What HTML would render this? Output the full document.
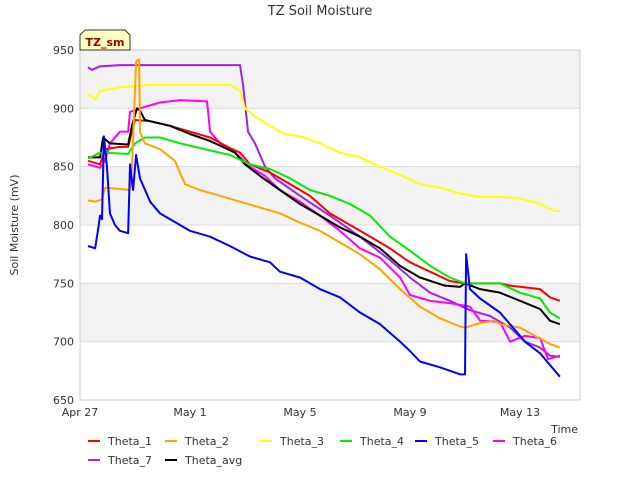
<!DOCTYPE html>
<html><head><meta charset="utf-8"><style>
body{margin:0;background:#fff;font-family:"Liberation Sans","DejaVu Sans",sans-serif}
svg text{font-family:"DejaVu Sans","Liberation Sans",sans-serif}
</style></head><body>
<svg id="chart" width="640" height="480" xmlns="http://www.w3.org/2000/svg">
<rect width="640" height="480" fill="#fff"/>
<text x="320" y="15" text-anchor="middle" font-size="13" fill="#333">TZ Soil Moisture</text>
<g id="bands"></g><g id="grid"></g><g id="series"></g>
<rect x="80" y="50" width="500" height="350" fill="none" stroke="#ccc"/>
<g id="yticks"></g><g id="xticks"></g>
<text transform="translate(18,225) rotate(-90)" text-anchor="middle" font-size="11" fill="#333">Soil Moisture (mV)</text>
<text x="578" y="433" text-anchor="end" font-size="11" fill="#333">Time</text>
<g><path d="M80,40 L80,35 L85,30 L125,30 L130,35 L130,50 L80,50 Z" fill="#ffffc0" stroke="#333"/>
<text x="105" y="46" text-anchor="middle" font-size="11" font-weight="bold" fill="#990000">TZ_sm</text></g>
<g id="legend"></g>
</svg>
<script>
const names=["Theta_1","Theta_2","Theta_3","Theta_4","Theta_5","Theta_6","Theta_7","Theta_avg"];
const colors=["#ff0000","#ffa500","#ffff00","#00ee00","#0000ff","#ff00ff","#a020f0","#000000"];
const yTicks=[650,700,750,800,850,900,950];
const xTickDays=[0,4,8,12,16];
const xTickLabels=["Apr 27","May 1","May 5","May 9","May 13"];
const theta1=[[.29,855],[.73,852],[.91,865],[1.45,867],[1.75,867],[1.89,880],[2,890],[2.55,889],[3.27,885],[4,880],[4.73,875],[5.45,866],[5.82,862],[6.18,852],[6.91,845],[7.64,835],[8.36,825],[9.09,810],[9.82,800],[10.55,790],[11.27,780],[12,768],[12.73,760],[13.45,752],[14,750],[14.55,750],[15.27,750],[15.64,748],[16.73,745],[17.09,738],[17.45,735]];
const theta2=[[.29,821],[.55,820],[.8,822],[.91,832],[1.82,830],[1.89,850],[2.04,940],[2.15,942],[2.18,880],[2.36,870],[2.91,865],[3.45,855],[3.82,835],[4.36,830],[5.09,825],[5.82,820],[6.55,815],[7.27,810],[8,802],[8.73,795],[9.45,785],[10.18,775],[10.91,762],[11.64,745],[12.36,730],[13.09,720],[13.82,713],[14,712],[14.55,716],[15.09,718],[15.27,715],[16,712],[16.55,705],[17.09,698],[17.45,695]];
const theta3=[[.29,912],[.55,908],[.73,915],[1.45,918],[2.55,920],[5.45,920],[5.82,915],[6,900],[6.36,893],[6.91,885],[7.45,878],[8,876],[8.73,870],[9.45,862],[10.18,858],[10.91,850],[11.64,843],[12.36,835],[13.09,832],[13.82,827],[14.55,824],[15.27,824],[16,823],[16.73,818],[17.27,812],[17.45,812]];
const theta4=[[.29,857],[.73,862],[1.75,861],[2,870],[2.36,875],[2.91,875],[3.64,870],[4.36,866],[5.45,860],[6.18,852],[6.91,848],[7.64,840],[8.36,830],[9.09,825],[9.82,818],[10.55,808],[11.27,790],[12,778],[12.73,765],[13.45,755],[14,750],[15.27,750],[16,742],[16.73,737],[17.09,725],[17.45,720]];
const theta5=[[.29,782],[.55,780],[.65,795],[.73,808],[.8,805],[.87,876],[.98,850],[1.09,810],[1.27,800],[1.45,795],[1.75,793],[1.82,852],[1.93,830],[2.04,860],[2.18,840],[2.55,820],[2.91,810],[3.27,805],[4,795],[4.73,790],[5.45,782],[6.18,773],[6.91,768],[7.27,760],[8,755],[8.73,745],[9.45,738],[10.18,725],[10.91,715],[11.64,700],[12,692],[12.36,683],[13.09,678],[13.82,672],[14,672],[14.04,775],[14.18,745],[14.55,737],[15.27,725],[15.82,710],[16.18,700],[16.73,690],[17.09,680],[17.45,670]];
const theta6=[[.29,852],[.73,849],[.91,855],[1.09,870],[1.45,880],[1.75,880],[1.82,897],[2.18,900],[2.91,905],[3.64,907],[4.62,906],[4.73,880],[5.09,870],[5.64,862],[6.18,850],[6.73,842],[7.27,830],[8,820],[8.73,808],[9.45,795],[10.18,780],[10.91,772],[11.64,755],[12,740],[12.73,735],[13.45,733],[14.18,730],[14.55,718],[15.27,717],[15.64,700],[16.18,705],[16.73,703],[17.02,685],[17.45,688]];
const theta7=[[.29,935],[.44,933],[.73,936],[1.45,937],[5.82,937],[5.93,920],[6.11,880],[6.36,870],[6.73,850],[7.09,840],[8,825],[9.09,808],[10.18,790],[11.27,770],[12,755],[12.73,742],[13.45,735],[14.18,727],[14.91,722],[15.64,712],[16.18,700],[16.73,695],[17.09,688],[17.45,687]];
const thetaAvg=[[.29,858],[.73,858],[.84,875],[1.09,870],[1.75,869],[1.89,885],[2.07,900],[2.18,898],[2.36,890],[3.27,885],[4,878],[4.73,872],[5.64,862],[6,852],[6.55,842],[7.27,830],[8,818],[8.73,808],[9.45,798],[10.18,790],[10.91,780],[11.64,765],[12.36,755],[13.27,748],[13.82,747],[14,750],[14.55,745],[15.27,742],[16,735],[16.73,728],[17.09,718],[17.45,715]];
const series=[theta1,theta2,theta3,theta4,theta5,theta6,theta7,thetaAvg];
const drawOrder=[6,2,5,0,7,3,1,4];
const X=d=>80+d*27.5, Y=v=>400-(v-650)*350/300;
const NS="http://www.w3.org/2000/svg";
function mk(tag,attrs,parent){const e=document.createElementNS(NS,tag);for(const k in attrs)e.setAttribute(k,attrs[k]);parent.appendChild(e);return e;}
const bands=document.getElementById('bands'),grid=document.getElementById('grid');
for(let i=0;i<yTicks.length-1;i++){if(i%2===0)continue;
 const b=mk('rect',{x:80,y:Y(yTicks[i+1]),width:500,height:Y(yTicks[i])-Y(yTicks[i+1]),fill:'#f2f2f2'},bands);
 
 }
const yt=document.getElementById('yticks');
yTicks.forEach(v=>{const l=mk('line',{x1:80,x2:580,y1:Y(v),y2:Y(v),stroke:'#dcdcdc'},grid);
 
 
 const t=mk('text',{x:74,y:Y(v)+4,'text-anchor':'end','font-size':11,fill:'#333'},yt);t.textContent=v;
 
 });
const xt=document.getElementById('xticks');
xTickDays.forEach((d,i)=>{const t=mk('text',{x:X(d),y:416,'text-anchor':'middle','font-size':11,fill:'#333'},xt);t.textContent=xTickLabels[i];
 
 });
const sg=document.getElementById('series');
drawOrder.forEach(i=>{const p=mk('polyline',{points:series[i].map(q=>X(q[0])+','+Y(q[1])).join(' '),fill:'none',stroke:colors[i],'stroke-width':2,'stroke-linejoin':'round'},sg);
 
 });
const lg=document.getElementById('legend');
const lx=[88,165,260,340,415,493,88,165],ly=[441,441,441,441,441,441,460,460];
names.forEach((n,i)=>{const g=mk('g',{},lg);
 
 
 mk('line',{x1:lx[i],x2:lx[i]+12,y1:ly[i],y2:ly[i],stroke:colors[i],'stroke-width':2},g);
 const t=mk('text',{x:lx[i]+20,y:ly[i]+4,'font-size':11,fill:'#333'},g);t.textContent=n;});
</script>
</body></html>
